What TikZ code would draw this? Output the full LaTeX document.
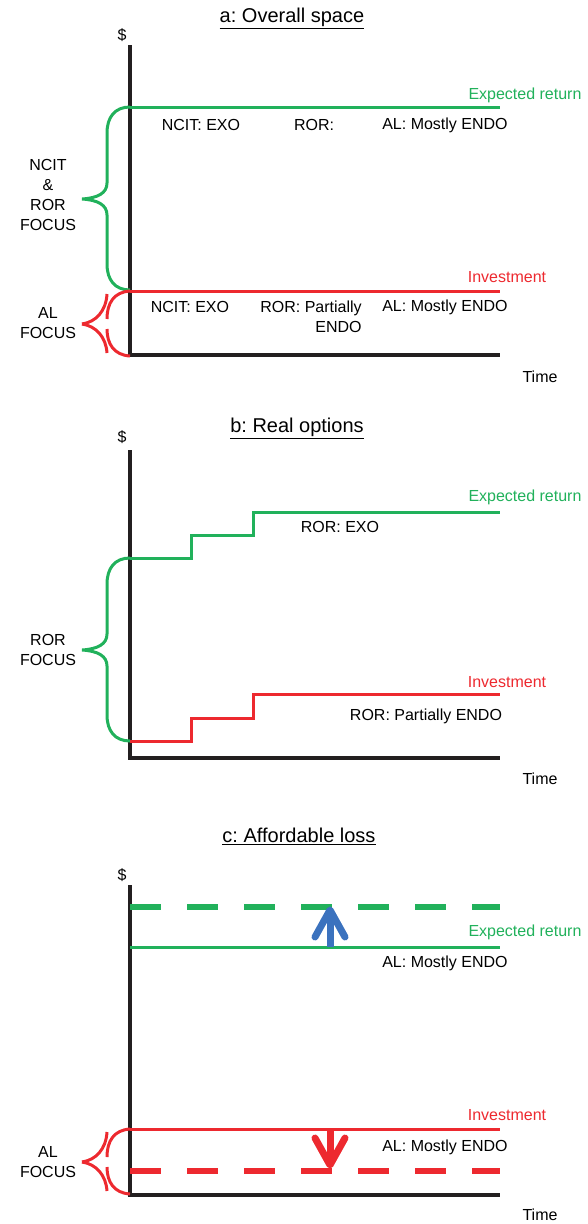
\documentclass[tikz,border=0pt]{standalone}
\usepackage{fontspec}
\setmainfont{Liberation Sans}
\frenchspacing
\definecolor{retgreen}{RGB}{33,177,91}
\definecolor{invred}{RGB}{237,41,47}
\definecolor{moveblue}{RGB}{59,114,190}
\definecolor{axisblack}{RGB}{35,31,32}
\begin{document}
\begin{tikzpicture}[x=1pt, y=-1pt,
		axisline/.style={draw=axisblack, line width=4pt},
		ret/.style={draw=retgreen, line width=3pt},
		inv/.style={draw=invred, line width=3pt},
		dashline/.style={line width=6pt, dash pattern=on 31pt off 26pt},
		movearrow/.style={line width=7pt},
		txt/.style={font=\fontsize{16}{20}\selectfont, inner sep=0pt, align=center},
		heading/.style={font=\fontsize{20}{24}\selectfont, inner sep=0pt}
	]
	\useasboundingbox (0,0) rectangle (588,1224);

	% a: overall space
	\node[heading] at (292,18) (titlea) {\underline{a: Overall space}};
	\node[txt] at (122,35) (dollara) {\$};
	\draw[axisline] (130,45) -- (130,355) -- (500,355);
	\draw[ret] (130,107) -- (500,107);
	\draw[inv] (130,291) -- (500,291);
	\node[txt, text=retgreen] at (525,95) (reta) {Expected return};
	\node[txt, text=invred] at (507,277) (inva) {Investment};
	\node[txt] at (201,125) (ncitexo) {NCIT: EXO};
	\node[txt] at (314,125) (rorupper) {ROR:};
	\node[txt] at (445,125) (alupper) {AL: Mostly ENDO};
	\node[txt] at (190,307) (ncitlower) {NCIT: EXO};
	\node[txt, align=right] at (311,317) (rorlower) {ROR: Partially\\ENDO};
	\node[txt] at (445,307) (allower) {AL: Mostly ENDO};
	\node[txt] at (540,377) (timea) {Time};
	\node[txt] at (48,195) (focusa) {NCIT\\\&\\ROR\\FOCUS};
	\node[txt] at (48,323) (alfocusa) {AL\\FOCUS};

	% b: real options
	\node[heading] at (297,428) (titleb) {\underline{b: Real options}};
	\node[txt] at (122,437) (dollarb) {\$};
	\draw[axisline] (130,450) -- (130,758) -- (500,758);
	\draw[ret] (130,558) -- (191,558) -- (191,535) -- (253,535) -- (253,512) -- (500,512);
	\draw[inv] (130,741) -- (191,741) -- (191,718) -- (253,718) -- (253,694) -- (500,694);
	\node[txt, text=retgreen] at (525,497) (retb) {Expected return};
	\node[txt, text=invred] at (507,682) (invb) {Investment};
	\node[txt] at (340,527) (rorexo) {ROR: EXO};
	\node[txt] at (426,716) (rorendo) {ROR: Partially ENDO};
	\node[txt] at (540,779) (timeb) {Time};
	\node[txt] at (48,650) (focusb) {ROR\\FOCUS};

	% green braces (a and b)
	\foreach \t in {107,558}{
		\draw[ret] (130,\t) .. controls (115,\t) and (107,\t+10) .. (107,\t+26)
			-- (107,\t+76) .. controls (107,\t+86) and (98,\t+91) .. (82,\t+92)
			.. controls (98,\t+93) and (107,\t+98) .. (107,\t+108)
			-- (107,\t+157) .. controls (107,\t+173) and (115,\t+183) .. (130,\t+183);
	}

	% c: affordable loss
	\node[heading] at (299,836) (titlec) {\underline{c: Affordable loss}};
	\node[txt] at (122,875) (dollarc) {\$};
	\draw[axisline] (130,885) -- (130,1195) -- (500,1195);
	\draw[dashline, draw=retgreen] (130,907) -- (500,907);
	\draw[ret] (130,947) -- (500,947);
	\draw[inv] (130,1129) -- (500,1129);
	\draw[dashline, draw=invred] (130,1171) -- (500,1171);
	\node[txt, text=retgreen] at (525,932) (retc) {Expected return};
	\node[txt, text=invred] at (507,1115) (invc) {Investment};
	\node[txt] at (445,963) (alret) {AL: Mostly ENDO};
	\node[txt] at (445,1147) (alinv) {AL: Mostly ENDO};
	\node[txt] at (540,1215) (timec) {Time};
	\node[txt] at (48,1162) (alfocusc) {AL\\FOCUS};

	\coordinate (upfrom) at (330,947);
	\coordinate (upto) at (330,910);
	\draw[movearrow, draw=moveblue] (upfrom) -- (upto);
	\draw[movearrow, draw=moveblue, line cap=round, line join=round]
		(upto) ++(-15,27) -- (upto) -- ++(15,27);
	\coordinate (downfrom) at (330,1129);
	\coordinate (downto) at (330,1165);
	\draw[movearrow, draw=invred] (downfrom) -- (downto);
	\draw[movearrow, draw=invred, line cap=round, line join=round]
		(downto) ++(-15,-27) -- (downto) -- ++(15,-27);

	% red braces (a and c)
	\foreach \t in {291,1129}{
		\draw[inv] (130,\t) .. controls (114,\t+1) and (107,\t+12) .. (107,\t+28);
		\draw[inv] (82,\t+33) .. controls (96,\t+31) and (106,\t+20) .. (107,\t+3);
		\draw[inv] (130,\t+65) .. controls (114,\t+64) and (107,\t+53) .. (107,\t+38);
		\draw[inv] (82,\t+33) .. controls (96,\t+35) and (106,\t+46) .. (107,\t+62);
	}
\end{tikzpicture}
\end{document}
